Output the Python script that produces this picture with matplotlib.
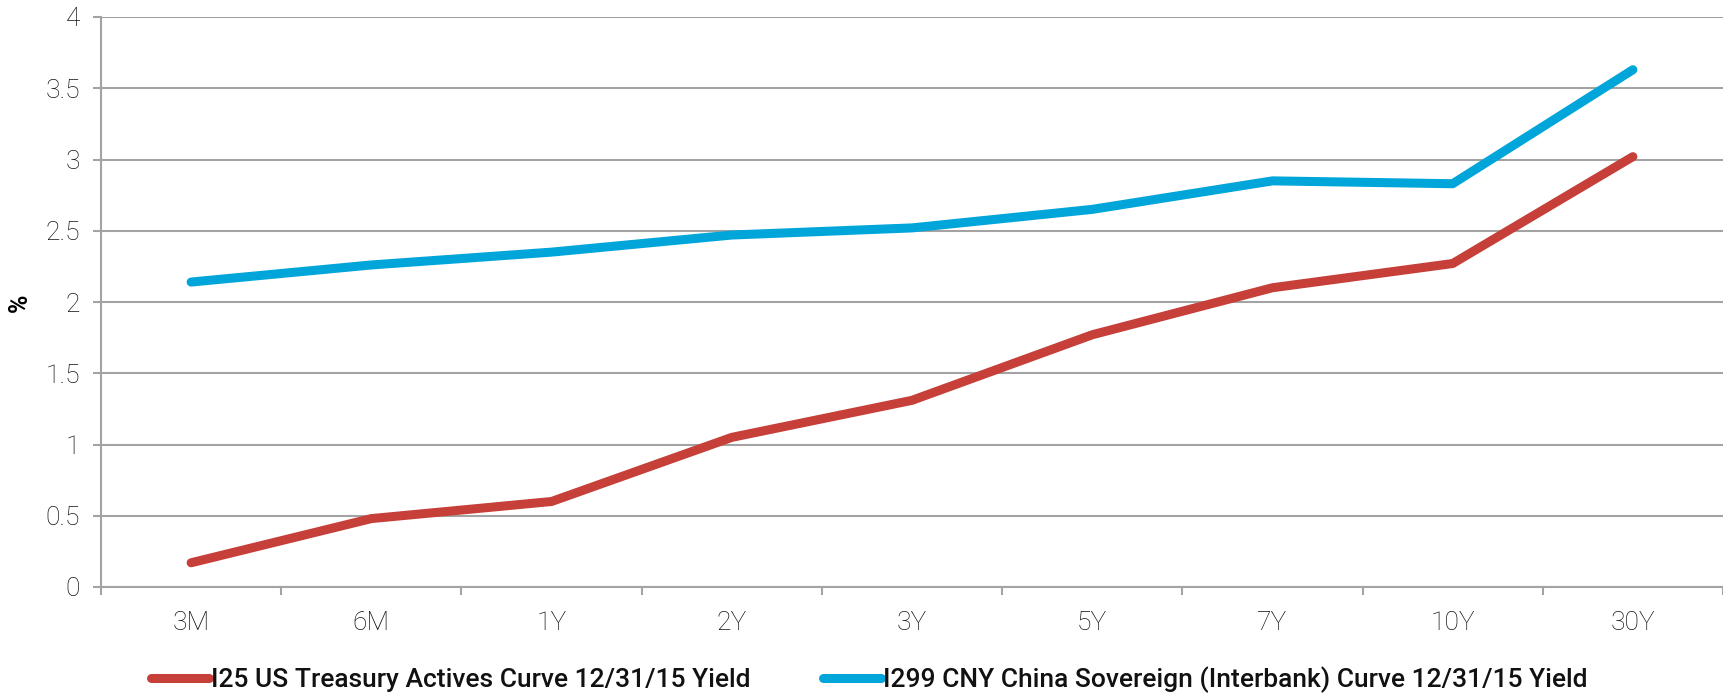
import matplotlib
matplotlib.use("Agg")
import matplotlib.pyplot as plt
import numpy as np

categories = ["3M", "6M", "1Y", "2Y", "3Y", "5Y", "7Y", "10Y", "30Y"]
us_yield = [0.17, 0.48, 0.60, 1.05, 1.31, 1.77, 2.10, 2.27, 3.02]
cny_yield = [2.14, 2.26, 2.35, 2.47, 2.52, 2.65, 2.85, 2.83, 3.63]
us_label = "I25 US Treasury Actives Curve 12/31/15 Yield"
cny_label = "I299 CNY China Sovereign (Interbank) Curve 12/31/15 Yield"
y_ticks = [0, 0.5, 1, 1.5, 2, 2.5, 3, 3.5, 4]
y_tick_labels = ["0", "0.5", "1", "1.5", "2", "2.5", "3", "3.5", "4"]

W, H = 1723, 693
fig = plt.figure(figsize=(W / 100, H / 100), dpi=100)
ax = fig.add_axes([101 / W, 1 - 587 / H, (1723 - 101) / W, (587 - 17) / H])

grid_c = "#a3a3a3"
red = "#C63F38"
blue = "#00A5D9"
x = np.arange(len(categories))

l1, = ax.plot(x, us_yield, color=red, lw=6.5, solid_capstyle="round",
              solid_joinstyle="round", label=us_label, zorder=3)
l2, = ax.plot(x, cny_yield, color=blue, lw=6.5, solid_capstyle="round",
              solid_joinstyle="round", label=cny_label, zorder=3)

ax.set_xlim(-0.5, len(categories) - 0.5)
ax.set_ylim(0, 4)
ax.set_yticks(y_ticks)
ax.set_yticklabels(y_tick_labels)
ax.set_xticks(x)
ax.set_xticklabels(categories)
ax.set_xticks(np.arange(-0.5, len(categories), 1), minor=True)
ax.tick_params(axis="x", which="major", length=0, pad=17)
ax.tick_params(axis="x", which="minor", length=6, width=1.5, color=grid_c, direction="out")
ax.tick_params(axis="y", length=6, width=1.5, color=grid_c, pad=9)
for lab in ax.get_xticklabels() + ax.get_yticklabels():
    lab.set_fontfamily("Roboto")
    lab.set_fontweight("light")
    lab.set_fontsize(19)
    lab.set_color("#111111")

ax.grid(axis="y", color=grid_c, lw=1.5, zorder=0)
ax.set_axisbelow(True)
for s in ["top", "right"]:
    ax.spines[s].set_visible(False)
for s in ["left", "bottom"]:
    ax.spines[s].set_color(grid_c)
    ax.spines[s].set_linewidth(1.5)

fig.text(20 / W, 1 - 303 / H, "%", rotation=90, ha="center", va="center",
         fontsize=18, fontweight="bold", family="Roboto")

leg_kw = dict(frameon=False, handlelength=2.2, handletextpad=0.08, borderpad=0,
              borderaxespad=0, prop={"family": "Roboto", "weight": "medium", "size": 19})
leg1 = fig.legend(handles=[l1], loc="center left",
                  bbox_to_anchor=(151 / W, 1 - 680 / H), **leg_kw)
leg2 = fig.legend(handles=[l2], loc="center left",
                  bbox_to_anchor=(823 / W, 1 - 680 / H), **leg_kw)
for leg in (leg1, leg2):
    for t in leg.get_texts():
        t.set_color("#111111")

fig.savefig("out.png", dpi=100)
